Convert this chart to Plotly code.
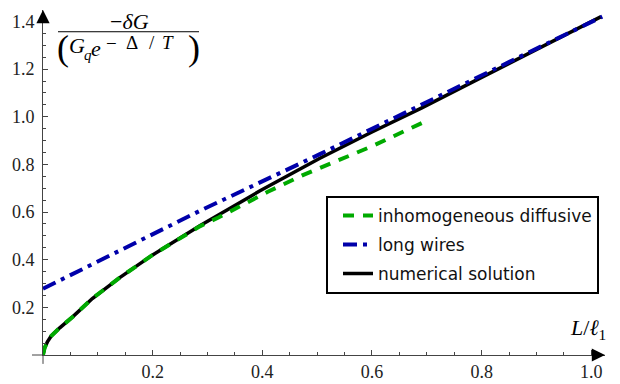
import plotly.graph_objects as go

# ---- data ----
black_x = [0, 0.003, 0.008, 0.015, 0.03, 0.055, 0.09, 0.14, 0.2, 0.286, 0.395, 0.505, 0.6, 0.69, 0.8, 0.9, 1.018]
black_y = [0, 0.03, 0.055, 0.08, 0.113, 0.162, 0.237, 0.325, 0.42, 0.542, 0.688, 0.826, 0.936, 1.036, 1.165, 1.282, 1.42]

green_x = [0, 0.003, 0.008, 0.015, 0.03, 0.055, 0.09, 0.14, 0.2, 0.286, 0.32, 0.41, 0.474, 0.6, 0.695]
green_y = [0, 0.03, 0.055, 0.08, 0.113, 0.162, 0.237, 0.325, 0.42, 0.54, 0.577, 0.685, 0.755, 0.876, 0.978]

blue_x = [0, 0.286, 0.505, 1.02]
blue_y = [0.278, 0.605, 0.843, 1.42]

x_ticks = [0.2, 0.4, 0.6, 0.8, 1.0]
x_ticklabels = ["0.2", "0.4", "0.6", "0.8", "1.0"]
y_ticks = [0.2, 0.4, 0.6, 0.8, 1.0, 1.2, 1.4]
y_ticklabels = ["0.2", "0.4", "0.6", "0.8", "1.0", "1.2", "1.4"]

names = ["inhomogeneous diffusive", "long wires", "numerical solution"]

GREEN = "#00aa00"
BLUE = "#0000aa"
AX = "#444444"
SERIF = "Liberation Serif"
SANS = "DejaVu Sans"

XMAX, YMAX = 1.025, 1.448
OFF = 8  # page body margin
W, H = 612, 376
L, R, T, B = 35, 15, 2, 25
pw, ph = W - L - R, H - T - B

fig = go.Figure()
fig.add_trace(go.Scatter(x=black_x, y=black_y, mode="lines", name=names[2], legendrank=3,
                         legendgroup="c", line=dict(color="black", width=3.5)))
fig.add_trace(go.Scatter(x=green_x, y=green_y, mode="lines", name=names[0], legendrank=1,
                         legendgroup="a", line=dict(color=GREEN, width=4, dash="11px,9px")))
fig.add_trace(go.Scatter(x=blue_x, y=blue_y, mode="lines", name=names[1], legendrank=2,
                         legendgroup="b", line=dict(color=BLUE, width=4, dash="14px,6px,4px,6px")))

fig.update_layout(
    width=W, height=H,
    margin=dict(l=L, r=R, t=T, b=B),
    plot_bgcolor="white", paper_bgcolor="white",
    font=dict(family=SERIF, size=18, color="#222222"),
    legend=dict(x=(326 - OFF - L) / pw, y=(H - B - (198 - OFF)) / ph, xanchor="left", yanchor="top",
                bgcolor="white", bordercolor="black", borderwidth=2, tracegroupgap=4,
                font=dict(family=SANS, size=17, color="#111111"), indentation=10),
    showlegend=True,
)

for upd, rng, tv, tt in ((fig.update_xaxes, [0, XMAX], x_ticks, x_ticklabels),
                         (fig.update_yaxes, [0, YMAX], y_ticks, y_ticklabels)):
    upd(range=rng, tickmode="array", tickvals=tv, ticktext=tt,
        showline=True, linecolor=AX, linewidth=1, showgrid=False, zeroline=False,
        ticks="inside", ticklen=5, tickcolor=AX, tickwidth=1,
        tickfont=dict(family=SERIF, size=18, color="#222222"),
        minor=dict(tick0=0, dtick=0.05, ticks="inside", ticklen=3, tickcolor=AX, tickwidth=1))
fig.update_yaxes(ticklabelstandoff=4)

# axis overhangs past the origin
fig.add_shape(type="line", xref="paper", yref="paper", x0=-11 / pw, x1=0, y0=0, y1=0,
              line=dict(color=AX, width=1))
fig.add_shape(type="line", xref="paper", yref="paper", x0=0, x1=0, y0=-9 / ph, y1=0,
              line=dict(color=AX, width=1))

# arrow heads
fig.add_annotation(x=1, y=0, xref="paper", yref="paper", ax=-14, ay=0, text="", showarrow=True,
                   arrowhead=2, arrowsize=2.2, arrowwidth=1.2, arrowcolor="black", standoff=0)
fig.add_annotation(x=0, y=1, xref="paper", yref="paper", ax=0, ay=14, text="", showarrow=True,
                   arrowhead=2, arrowsize=2.2, arrowwidth=1.2, arrowcolor="black", standoff=0)

def ppx(px):  # page pixel -> paper x
    return (px - OFF - L) / pw

def ppy(py):  # page pixel -> paper y
    return (H - B - (py - OFF)) / ph

def txt(s, px, py, size, xanchor="center"):
    fig.add_annotation(x=ppx(px), y=ppy(py), xref="paper", yref="paper", text=s, showarrow=False,
                       xanchor=xanchor, yanchor="middle",
                       font=dict(family=SERIF, size=size, color="black"))

# y-axis label (fraction)
txt("−<i>δG</i>", 129, 22, 22)
fig.add_shape(type="line", xref="paper", yref="paper", x0=ppx(58), x1=ppx(199), y0=ppy(32), y1=ppy(32),
              line=dict(color="black", width=1))
txt("(", 63, 48, 36)
txt("<i>G</i>", 77, 46, 22)
txt("<i>q</i>", 88, 56, 15)
txt("<i>e</i>", 96, 49, 22)
txt("−", 111, 44, 19)
txt("Δ", 132, 43, 19)
txt("/", 152, 43, 19)
txt("<i>T</i>", 168, 43, 19)
txt(")", 194, 48, 36)

# x-axis label
txt("<i>L</i>/<i>ℓ</i><sub>1</sub>", 608, 333, 22, xanchor="right")

fig.write_html("out.html")
